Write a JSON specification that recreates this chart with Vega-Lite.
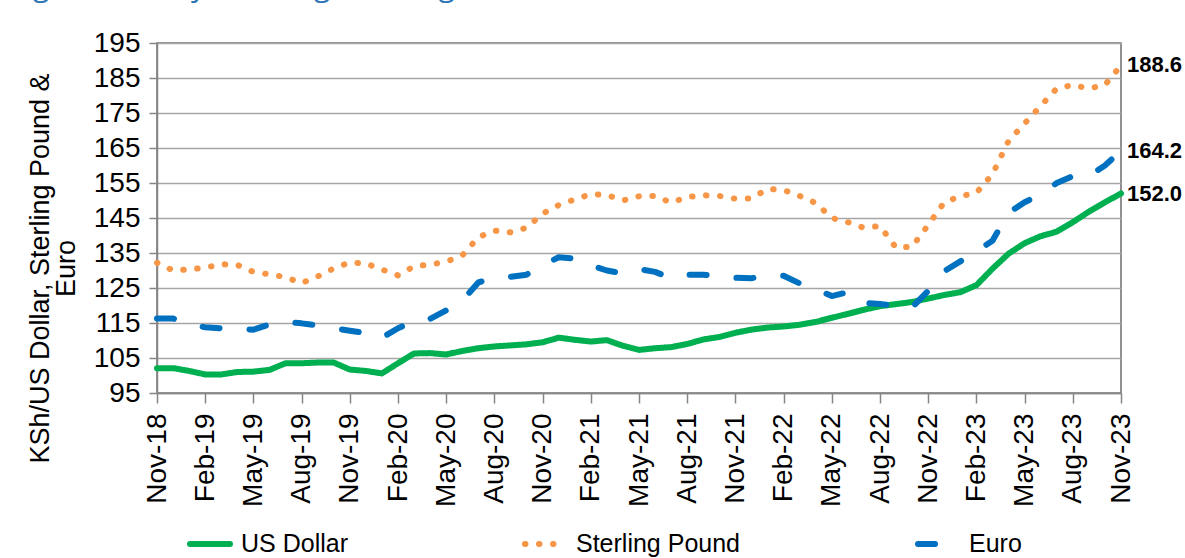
{
  "$schema": "https://vega.github.io/schema/vega-lite/v6.json",
  "description": "Kenya shilling exchange rate against US dollar, sterling pound and euro, Nov-18 to Nov-23",
  "width": 964,
  "height": 350,
  "autosize": "none",
  "padding": {"left": 157, "top": 43, "right": 64, "bottom": 165},
  "title": {
    "text": "Figure 5: Kenya Shilling Exchange Rate",
    "font": "Open Sans",
    "fontSize": 30,
    "fontWeight": "normal",
    "color": "#2E75B6",
    "anchor": "start",
    "frame": "group",
    "baseline": "alphabetic",
    "dx": -147,
    "offset": 3
  },
  "data": {
    "values": [
      {"month": "Nov-18", "US Dollar": 102.1, "Sterling Pound": 132.2, "Euro": 116.3},
      {"month": "Dec-18", "US Dollar": 102.1, "Sterling Pound": 130.0, "Euro": 116.3},
      {"month": "Jan-19", "US Dollar": 101.3, "Sterling Pound": 130.3, "Euro": 114.4},
      {"month": "Feb-19", "US Dollar": 100.3, "Sterling Pound": 130.8, "Euro": 113.8},
      {"month": "Mar-19", "US Dollar": 100.3, "Sterling Pound": 131.8, "Euro": 113.5},
      {"month": "Apr-19", "US Dollar": 101.0, "Sterling Pound": 131.6, "Euro": 113.3},
      {"month": "May-19", "US Dollar": 101.1, "Sterling Pound": 129.6, "Euro": 113.1},
      {"month": "Jun-19", "US Dollar": 101.6, "Sterling Pound": 128.9, "Euro": 114.6},
      {"month": "Jul-19", "US Dollar": 103.5, "Sterling Pound": 128.1, "Euro": 115.3},
      {"month": "Aug-19", "US Dollar": 103.5, "Sterling Pound": 126.4, "Euro": 114.9},
      {"month": "Sep-19", "US Dollar": 103.7, "Sterling Pound": 128.3, "Euro": 114.3},
      {"month": "Oct-19", "US Dollar": 103.7, "Sterling Pound": 130.6, "Euro": 113.5},
      {"month": "Nov-19", "US Dollar": 101.7, "Sterling Pound": 132.3, "Euro": 112.8},
      {"month": "Dec-19", "US Dollar": 101.3, "Sterling Pound": 132.0, "Euro": 112.1},
      {"month": "Jan-20", "US Dollar": 100.6, "Sterling Pound": 130.3, "Euro": 110.8},
      {"month": "Feb-20", "US Dollar": 103.5, "Sterling Pound": 128.6, "Euro": 113.5},
      {"month": "Mar-20", "US Dollar": 106.3, "Sterling Pound": 131.2, "Euro": 115.6},
      {"month": "Apr-20", "US Dollar": 106.4, "Sterling Pound": 131.7, "Euro": 116.2},
      {"month": "May-20", "US Dollar": 106.0, "Sterling Pound": 132.5, "Euro": 118.6},
      {"month": "Jun-20", "US Dollar": 107.0, "Sterling Pound": 134.3, "Euro": 121.4},
      {"month": "Jul-20", "US Dollar": 107.8, "Sterling Pound": 139.5, "Euro": 126.6},
      {"month": "Aug-20", "US Dollar": 108.3, "Sterling Pound": 141.4, "Euro": 127.9},
      {"month": "Sep-20", "US Dollar": 108.6, "Sterling Pound": 140.9, "Euro": 128.2},
      {"month": "Oct-20", "US Dollar": 108.9, "Sterling Pound": 142.2, "Euro": 128.8},
      {"month": "Nov-20", "US Dollar": 109.5, "Sterling Pound": 146.2, "Euro": 131.5},
      {"month": "Dec-20", "US Dollar": 110.8, "Sterling Pound": 148.7, "Euro": 133.8},
      {"month": "Jan-21", "US Dollar": 110.2, "Sterling Pound": 150.3, "Euro": 133.4},
      {"month": "Feb-21", "US Dollar": 109.7, "Sterling Pound": 151.8, "Euro": 131.5},
      {"month": "Mar-21", "US Dollar": 110.1, "Sterling Pound": 151.6, "Euro": 130.0},
      {"month": "Apr-21", "US Dollar": 108.5, "Sterling Pound": 150.0, "Euro": 129.2},
      {"month": "May-21", "US Dollar": 107.3, "Sterling Pound": 151.2, "Euro": 130.4},
      {"month": "Jun-21", "US Dollar": 107.8, "Sterling Pound": 151.3, "Euro": 129.6},
      {"month": "Jul-21", "US Dollar": 108.1, "Sterling Pound": 149.4, "Euro": 127.8},
      {"month": "Aug-21", "US Dollar": 109.0, "Sterling Pound": 151.0, "Euro": 128.8},
      {"month": "Sep-21", "US Dollar": 110.3, "Sterling Pound": 151.5, "Euro": 128.8},
      {"month": "Oct-21", "US Dollar": 111.0, "Sterling Pound": 151.3, "Euro": 128.4},
      {"month": "Nov-21", "US Dollar": 112.2, "Sterling Pound": 150.5, "Euro": 127.9},
      {"month": "Dec-21", "US Dollar": 113.1, "Sterling Pound": 150.6, "Euro": 127.8},
      {"month": "Jan-22", "US Dollar": 113.7, "Sterling Pound": 153.3, "Euro": 128.6},
      {"month": "Feb-22", "US Dollar": 114.0, "Sterling Pound": 153.0, "Euro": 128.5},
      {"month": "Mar-22", "US Dollar": 114.5, "Sterling Pound": 151.3, "Euro": 126.3},
      {"month": "Apr-22", "US Dollar": 115.3, "Sterling Pound": 149.3, "Euro": 124.7},
      {"month": "May-22", "US Dollar": 116.5, "Sterling Pound": 145.0, "Euro": 122.7},
      {"month": "Jun-22", "US Dollar": 117.6, "Sterling Pound": 143.8, "Euro": 123.8},
      {"month": "Jul-22", "US Dollar": 118.8, "Sterling Pound": 142.2, "Euro": 120.8},
      {"month": "Aug-22", "US Dollar": 119.8, "Sterling Pound": 142.7, "Euro": 120.4},
      {"month": "Sep-22", "US Dollar": 120.4, "Sterling Pound": 136.5, "Euro": 120.0},
      {"month": "Oct-22", "US Dollar": 121.0, "Sterling Pound": 136.8, "Euro": 119.5},
      {"month": "Nov-22", "US Dollar": 122.0, "Sterling Pound": 143.0, "Euro": 124.2},
      {"month": "Dec-22", "US Dollar": 123.0, "Sterling Pound": 149.5, "Euro": 129.8},
      {"month": "Jan-23", "US Dollar": 123.8, "Sterling Pound": 151.2, "Euro": 132.6},
      {"month": "Feb-23", "US Dollar": 125.8, "Sterling Pound": 152.2, "Euro": 135.5},
      {"month": "Mar-23", "US Dollar": 130.5, "Sterling Pound": 157.5, "Euro": 138.5},
      {"month": "Apr-23", "US Dollar": 134.8, "Sterling Pound": 167.0, "Euro": 146.5},
      {"month": "May-23", "US Dollar": 137.8, "Sterling Pound": 172.0, "Euro": 149.5},
      {"month": "Jun-23", "US Dollar": 139.8, "Sterling Pound": 177.0, "Euro": 151.7},
      {"month": "Jul-23", "US Dollar": 141.1, "Sterling Pound": 182.0, "Euro": 155.0},
      {"month": "Aug-23", "US Dollar": 143.8, "Sterling Pound": 183.0, "Euro": 157.0},
      {"month": "Sep-23", "US Dollar": 146.8, "Sterling Pound": 182.0, "Euro": 157.0},
      {"month": "Oct-23", "US Dollar": 149.5, "Sterling Pound": 183.0, "Euro": 160.0},
      {"month": "Nov-23", "US Dollar": 152.0, "Sterling Pound": 188.6, "Euro": 164.2}
    ]
  },
  "transform": [
    {"fold": ["US Dollar", "Sterling Pound", "Euro"], "as": ["series", "rate"]}
  ],
  "encoding": {
    "x": {
      "field": "month",
      "type": "ordinal",
      "sort": null,
      "scale": {"type": "point", "padding": 0},
      "axis": {
        "title": null,
        "values": ["Nov-18", "Feb-19", "May-19", "Aug-19", "Nov-19", "Feb-20", "May-20", "Aug-20", "Nov-20", "Feb-21", "May-21", "Aug-21", "Nov-21", "Feb-22", "May-22", "Aug-22", "Nov-22", "Feb-23", "May-23", "Aug-23", "Nov-23"],
        "labelAngle": 270,
        "labelAlign": "right",
        "labelBaseline": "middle",
        "labelFont": "Liberation Sans",
        "labelFontSize": 28,
        "labelColor": "#000000",
        "labelPadding": 10,
        "tickSize": 10,
        "tickColor": "#868686",
        "tickWidth": 1.5,
        "domainColor": "#868686",
        "domainWidth": 1.5,
        "grid": false
      }
    },
    "y": {
      "field": "rate",
      "type": "quantitative",
      "scale": {"domain": [95, 195], "nice": false, "zero": false},
      "axis": {
        "values": [95, 105, 115, 125, 135, 145, 155, 165, 175, 185, 195],
        "title": ["KSh/US Dollar, Sterling Pound &", "Euro"],
        "titleFont": "Liberation Sans",
        "titleFontSize": 27,
        "titleFontWeight": "normal",
        "titleColor": "#000000",
        "titleLineHeight": 26,
        "titleX": -103,
        "titleY": 225,
        "titleAlign": "center",
        "labelFont": "Liberation Sans",
        "labelFontSize": 28,
        "labelColor": "#000000",
        "labelPadding": 9,
        "tickSize": 8,
        "tickColor": "#868686",
        "tickWidth": 1.5,
        "domainColor": "#868686",
        "domainWidth": 1.5,
        "grid": true,
        "gridColor": "#A6A6A6",
        "gridWidth": 1.5
      }
    }
  },
  "layer": [
    {
      "mark": {"type": "line", "strokeWidth": 6, "strokeCap": "round", "strokeJoin": "round"},
      "encoding": {
        "color": {
          "field": "series",
          "type": "nominal",
          "scale": {"domain": ["US Dollar", "Sterling Pound", "Euro"], "range": ["#00B050", "#F79646", "#0070C0"]},
          "legend": {
            "title": null,
            "orient": "none",
            "legendX": 30,
            "legendY": 478,
            "direction": "horizontal",
            "symbolType": "stroke",
            "symbolSize": 1600,
            "symbolStrokeWidth": 6,
            "symbolOpacity": 1,
            "labelFont": "Liberation Sans",
            "labelFontSize": 25,
            "labelColor": "#000000",
            "labelLimit": 400,
            "labelOffset": 8,
            "columnPadding": 165,
            "encode": {"symbols": {"update": {"strokeCap": {"value": "round"}}}}
          }
        },
        "strokeDash": {
          "field": "series",
          "type": "nominal",
          "scale": {"domain": ["US Dollar", "Sterling Pound", "Euro"], "range": [[1, 0], [0.5, 13.5], [17, 30]]},
          "legend": {
            "title": null,
            "orient": "none",
            "legendX": 30,
            "legendY": 478,
            "direction": "horizontal",
            "symbolType": "stroke",
            "symbolSize": 1600,
            "symbolStrokeWidth": 6,
            "symbolOpacity": 1,
            "labelFont": "Liberation Sans",
            "labelFontSize": 25,
            "labelColor": "#000000",
            "labelLimit": 400,
            "labelOffset": 8,
            "columnPadding": 165,
            "encode": {"symbols": {"update": {"strokeCap": {"value": "round"}}}}
          }
        }
      }
    },
    {
      "transform": [{"filter": "datum.month === 'Nov-23'"}],
      "mark": {
        "type": "text",
        "align": "left",
        "baseline": "middle",
        "dx": 6,
        "font": "Liberation Sans",
        "fontSize": 22,
        "fontWeight": "bold",
        "color": "#000000"
      },
      "encoding": {
        "text": {"field": "rate", "type": "quantitative", "format": ".1f"}
      }
    }
  ],
  "config": {
    "view": {"stroke": "#6E6E6E", "strokeWidth": 1.5},
    "background": "#FFFFFF"
  }
}
